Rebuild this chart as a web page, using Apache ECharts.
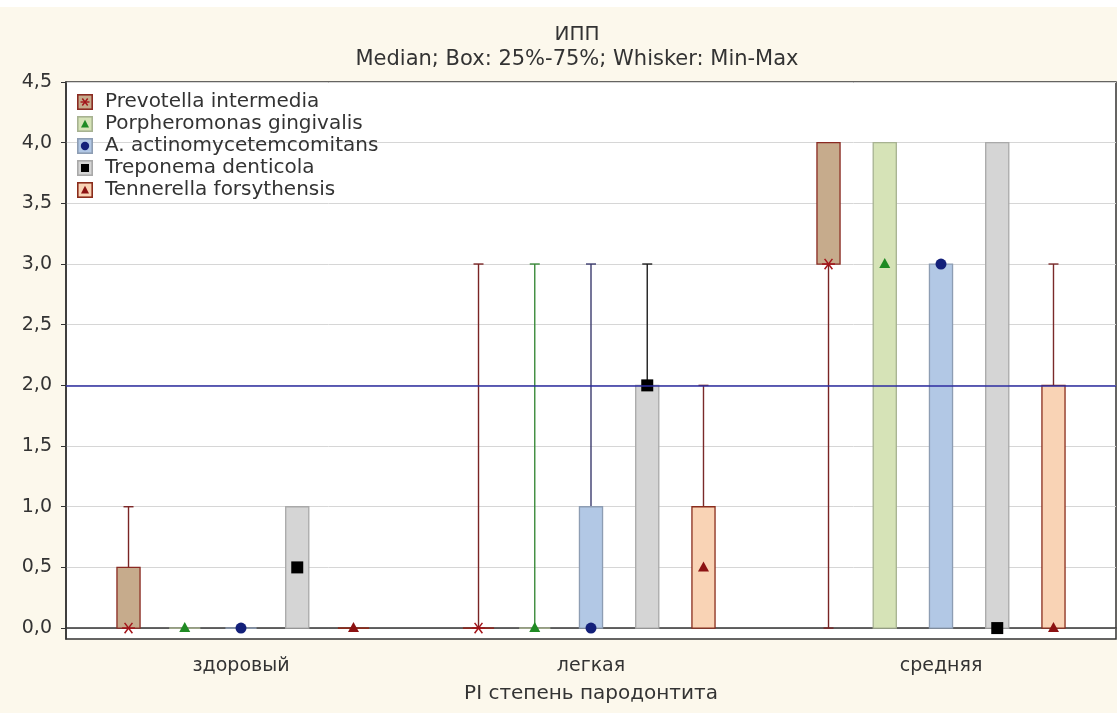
<!DOCTYPE html>
<html>
<head>
<meta charset="utf-8">
<title>ИПП</title>
<script src="https://cdn.jsdelivr.net/npm/echarts@6/dist/echarts.min.js"></script>
<style>
  html, body { margin: 0; padding: 0; background: #ffffff; }
  #chart { width: 1117px; height: 713px; }
</style>
</head>
<body>
<div id="chart"></div>
<script>
// Periodontitis severity groups (x categories)
const categories = ['здоровый', 'легкая', 'средняя'];

// Series names, in legend order
const seriesNames = [
  'Prevotella intermedia',
  'Porpheromonas gingivalis',
  'A. actinomycetemcomitans',
  'Treponema denticola',
  'Tennerella forsythensis'
];

// Per group: [min, q1, median, q3, max]
const prevotella    = [[0, 0, 0, 0.5, 1], [0, 0, 0, 0, 3], [0, 3, 3, 4, 4]];
const porpheromonas = [[0, 0, 0, 0, 0],   [0, 0, 0, 0, 3], [0, 0, 3, 4, 4]];
const actinomyces   = [[0, 0, 0, 0, 0],   [0, 0, 0, 1, 3], [0, 0, 3, 3, 3]];
const treponema     = [[0, 0, 0.5, 1, 1], [0, 0, 2, 2, 3], [0, 0, 0, 4, 4]];
const tennerella    = [[0, 0, 0, 0, 0],   [0, 0, 0.5, 1, 2], [0, 0, 0, 2, 3]];

// Y tick values and the horizontal reference level
const yTicks = [0, 0.5, 1, 1.5, 2, 2.5, 3, 3.5, 4, 4.5];
const referenceLevel = 2;

const seriesData = [prevotella, porpheromonas, actinomyces, treponema, tennerella];

// Visual styles per series
const styles = [
  { fill: '#c6ab8c', border: '#8a2a22', whisker: '#7a2424', marker: 'star',     markerColor: '#a3141a' },
  { fill: '#d6e3b7', border: '#a7b291', whisker: '#3b8a3b', marker: 'triangle', markerColor: '#1f8a23' },
  { fill: '#b2c8e5', border: '#8d9db3', whisker: '#3b3b6e', marker: 'circle',   markerColor: '#13207a' },
  { fill: '#d5d5d5', border: '#a9a9a9', whisker: '#1e1e1e', marker: 'square',   markerColor: '#000000' },
  { fill: '#f9d3b5', border: '#8a2c1c', whisker: '#7a2a2a', marker: 'triangle', markerColor: '#8c1212' }
];

const FONT = 'DejaVu Sans';
const SLOT = 0.1607;   // distance between neighbouring series, as a share of the band
const BOX = 0.066;     // box width, as a share of the band

function slotX(api, idx, cat) {
  const band = api.size([1, 0])[0];
  return { x: api.coord([cat, 0])[0] + (idx - 2) * band * SLOT, band: band };
}

function boxRenderer(idx) {
  const st = styles[idx];
  return function (params, api) {
    const cat = api.value(0);
    const p = slotX(api, idx, cat);
    const x = p.x;
    const half = p.band * BOX / 2;
    const y = v => api.coord([cat, v])[1];
    const mn = api.value(1), q1 = api.value(2), q3 = api.value(4), mx = api.value(5);
    const cap = 5;
    const ls = { stroke: st.whisker, lineWidth: 1.4 };
    const children = [];
    if (mx > q3) {
      children.push({ type: 'line', shape: { x1: x, y1: y(q3), x2: x, y2: y(mx) }, style: ls });
      children.push({ type: 'line', shape: { x1: x - cap, y1: y(mx), x2: x + cap, y2: y(mx) }, style: ls });
    }
    if (mn < q1) {
      children.push({ type: 'line', shape: { x1: x, y1: y(q1), x2: x, y2: y(mn) }, style: ls });
      children.push({ type: 'line', shape: { x1: x - cap, y1: y(mn), x2: x + cap, y2: y(mn) }, style: ls });
    }
    if (q3 > q1) {
      children.push({
        type: 'rect',
        shape: { x: x - half, y: y(q3), width: half * 2, height: y(q1) - y(q3) },
        style: { fill: st.fill, stroke: st.border, lineWidth: 1.3 }
      });
    } else {
      const w = half * 1.35;
      children.push({ type: 'line', shape: { x1: x - w, y1: y(q1), x2: x + w, y2: y(q1) },
        style: { stroke: st.border, lineWidth: 1.6 } });
    }
    return { type: 'group', children: children };
  };
}

function markerShape(kind, x, y, color) {
  if (kind === 'circle') {
    return { type: 'circle', shape: { cx: x, cy: y, r: 5.5 }, style: { fill: color } };
  }
  if (kind === 'square') {
    return { type: 'rect', shape: { x: x - 6, y: y - 6, width: 12, height: 12 }, style: { fill: color } };
  }
  if (kind === 'triangle') {
    return { type: 'polygon', shape: { points: [[x, y - 6], [x + 5.5, y + 4], [x - 5.5, y + 4]] },
      style: { fill: color } };
  }
  // asterisk
  const r = 6.5, st = { stroke: color, lineWidth: 1.5 };
  return {
    type: 'group',
    children: [
      { type: 'line', shape: { x1: x - r, y1: y, x2: x + r, y2: y }, style: st },
      { type: 'line', shape: { x1: x - r * 0.6, y1: y - r * 0.8, x2: x + r * 0.6, y2: y + r * 0.8 }, style: st },
      { type: 'line', shape: { x1: x + r * 0.6, y1: y - r * 0.8, x2: x - r * 0.6, y2: y + r * 0.8 }, style: st }
    ]
  };
}

function medianRenderer(idx) {
  const st = styles[idx];
  return function (params, api) {
    const cat = api.value(0);
    const x = slotX(api, idx, cat).x;
    const y = api.coord([cat, api.value(1)])[1];
    return markerShape(st.marker, x, y, st.markerColor);
  };
}

// Legend icons: coloured box with the series marker inside
function markerSvg(kind, color) {
  const cx = 8, cy = 8;
  if (kind === 'circle') return `<circle cx="${cx}" cy="${cy}" r="4.2" fill="${color}"/>`;
  if (kind === 'square') return `<rect x="4" y="4" width="8" height="8" fill="${color}"/>`;
  if (kind === 'triangle') return `<polygon points="8,3.8 12,11.5 4,11.5" fill="${color}"/>`;
  return `<g stroke="${color}" stroke-width="1.4"><line x1="3.5" y1="8" x2="12.5" y2="8"/>` +
         `<line x1="5.3" y1="4.5" x2="10.7" y2="11.5"/><line x1="10.7" y1="4.5" x2="5.3" y2="11.5"/></g>`;
}
function legendIcon(idx) {
  const st = styles[idx];
  const svg = `<svg xmlns="http://www.w3.org/2000/svg" width="23" height="16" viewBox="0 0 23 16">` +
    `<rect x="0.8" y="0.8" width="14.4" height="14.4" fill="${st.fill}" stroke="${st.border}" stroke-width="1.6"/>` +
    markerSvg(st.marker, st.markerColor) + `</svg>`;
  return 'image://data:image/svg+xml;charset=utf-8,' + encodeURIComponent(svg);
}

const series = [];
seriesData.forEach(function (rows, idx) {
  series.push({
    type: 'custom',
    name: seriesNames[idx],
    z: 2,
    renderItem: boxRenderer(idx),
    encode: { x: 0, y: [1, 2, 3, 4, 5] },
    data: rows.map((r, c) => [c].concat(r))
  });
  series.push({
    type: 'custom',
    name: seriesNames[idx],
    z: 4,
    renderItem: medianRenderer(idx),
    encode: { x: 0, y: 1 },
    data: rows.map((r, c) => [c, r[2]])
  });
});
// Horizontal reference line
series.push({
  type: 'scatter',
  name: 'reference',
  data: [],
  z: 3,
  silent: true,
  markLine: {
    silent: true,
    symbol: 'none',
    animation: false,
    label: { show: false },
    lineStyle: { color: '#2c2ca0', width: 1.6, type: 'solid' },
    data: [{ yAxis: referenceLevel }]
  }
});

const chart = echarts.init(document.getElementById('chart'));
chart.setOption({
  animation: false,
  backgroundColor: '#fcf8ec',
  textStyle: { fontFamily: FONT },
  graphic: [{
    type: 'rect', z: -10,
    shape: { x: 0, y: 0, width: 1117, height: 7 },
    style: { fill: '#ffffff' }
  }],
  title: [
    { text: 'ИПП', left: 572, top: 20, textAlign: 'center',
      textStyle: { fontFamily: FONT, fontSize: 20, fontWeight: 'normal', color: '#333' } },
    { text: 'Median; Box: 25%-75%; Whisker: Min-Max', left: 572, top: 44, textAlign: 'center',
      textStyle: { fontFamily: FONT, fontSize: 21, fontWeight: 'normal', color: '#333' } }
  ],
  legend: {
    orient: 'vertical',
    left: 77,
    top: 92,
    padding: 0,
    itemGap: 2,
    itemWidth: 23,
    itemHeight: 16,
    selectedMode: false,
    textStyle: { fontFamily: FONT, fontSize: 20, lineHeight: 20, color: '#333', padding: 0 },
    data: seriesNames.map((n, i) => ({ name: n, icon: legendIcon(i) }))
  },
  grid: {
    left: 66, top: 82, right: 1, bottom: 74,
    show: true, backgroundColor: '#ffffff',
    borderColor: '#333', borderWidth: 1.5
  },
  xAxis: {
    type: 'category',
    data: categories,
    axisLine: { lineStyle: { color: '#333', width: 1.5 } },
    axisTick: { alignWithLabel: true, length: 5, lineStyle: { color: '#333' } },
    axisLabel: { fontFamily: FONT, fontSize: 19, color: '#333', margin: 18 },
    splitLine: { show: false },
    name: 'PI степень пародонтита',
    nameLocation: 'middle',
    nameGap: 45,
    nameTextStyle: { fontFamily: FONT, fontSize: 20, color: '#333' }
  },
  yAxis: {
    type: 'value',
    min: -0.09,
    max: 4.5,
    axisLine: { show: true, lineStyle: { color: '#333', width: 1.5 } },
    axisTick: { show: true, length: 5, customValues: yTicks, lineStyle: { color: '#333' } },
    axisLabel: {
      customValues: yTicks,
      fontFamily: FONT, fontSize: 19, color: '#333', margin: 14,
      formatter: v => v.toFixed(1).replace('.', ',')
    },
    splitLine: { show: true, lineStyle: { color: '#d6d6d6', width: 1 } }
  },
  series: series
});
</script>
</body>
</html>
